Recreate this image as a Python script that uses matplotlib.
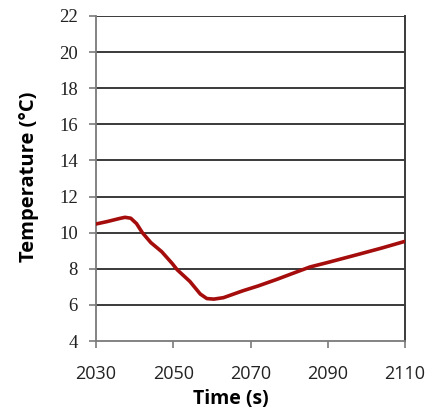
import matplotlib
matplotlib.use("Agg")
import matplotlib.pyplot as plt

# Temperature trace
time_s = [2030, 2033, 2036, 2037.5, 2039, 2040.5, 2042, 2044.2, 2047, 2049.7, 2051,
          2054.3, 2057, 2058.7, 2060.5, 2063, 2068, 2072, 2076.9, 2081, 2085.4,
          2090, 2097.6, 2104, 2110]
temp_c = [10.48, 10.62, 10.78, 10.85, 10.8, 10.5, 10.0, 9.45, 8.95, 8.3, 7.95,
          7.3, 6.6, 6.35, 6.32, 6.4, 6.78, 7.05, 7.42, 7.75, 8.1,
          8.35, 8.78, 9.15, 9.52]

x_ticks = [2030, 2050, 2070, 2090, 2110]
y_ticks = [4, 6, 8, 10, 12, 14, 16, 18, 20, 22]

fig = plt.figure(figsize=(4.36, 4.16), dpi=100)
ax = fig.add_axes([96/436, 1 - 341/416, (405 - 96)/436, (341 - 16)/416])

ax.set_xlim(2030, 2110)
ax.set_ylim(4, 22)
ax.set_xticks(x_ticks)
ax.set_yticks(y_ticks)

for y in y_ticks[1:]:
    ax.axhline(y, color="#3a3a3a", lw=1.4, zorder=1)

ax.plot(time_s, temp_c, color="#a50d0d", lw=2.6, solid_capstyle="round", zorder=3)

for side in ("left", "bottom"):
    ax.spines[side].set_color("#7a7a7a")
    ax.spines[side].set_linewidth(1.3)
ax.spines["right"].set_color("#3a3a3a")
ax.spines["right"].set_linewidth(1.4)
ax.spines["top"].set_visible(False)

ax.tick_params(axis="both", direction="out", length=5, width=1.2, color="#7a7a7a")
ax.tick_params(axis="x", pad=12)
ax.tick_params(axis="y", pad=8)

for lab in ax.get_yticklabels():
    lab.set_fontfamily("Liberation Serif")
    lab.set_fontsize(13.5)
    lab.set_color("#222222")
for lab in ax.get_xticklabels():
    lab.set_fontfamily("Open Sans")
    lab.set_fontsize(13)
    lab.set_color("#222222")

ax.set_xlabel("Time (s)", fontfamily="Open Sans", fontweight="bold", fontsize=14)
ax.set_ylabel("Temperature (°C)", fontfamily="Open Sans", fontweight="bold", fontsize=14.5)
ax.xaxis.set_label_coords((231 - 96) / 309, (341 - 389) / 325)
ax.yaxis.set_label_coords((39 - 96) / 309, 0.5 + (180.5 - 178.5) / 325)

fig.savefig("out.png", dpi=100)
